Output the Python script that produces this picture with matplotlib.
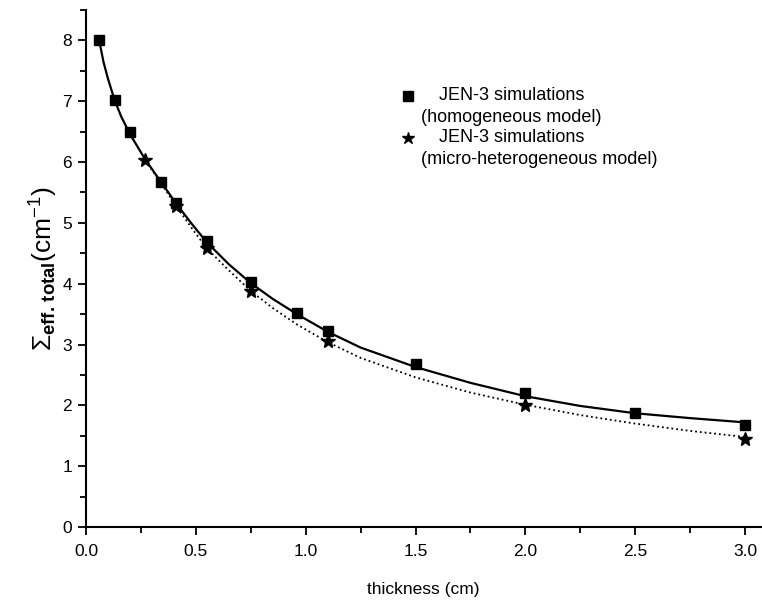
import matplotlib
matplotlib.use('Agg')
import matplotlib.pyplot as plt
from matplotlib.ticker import MultipleLocator, AutoMinorLocator

plt.rcParams['font.family'] = ['Liberation Sans', 'DejaVu Sans']
plt.rcParams['mathtext.fontset'] = 'custom'
plt.rcParams['mathtext.rm'] = 'Liberation Sans'
plt.rcParams['mathtext.bf'] = 'Liberation Sans:bold'
plt.rcParams['mathtext.it'] = 'Liberation Sans:italic'

# simulated points
hom_x = [0.06, 0.13, 0.20, 0.34, 0.41, 0.55, 0.75, 0.96, 1.10, 1.50, 2.00, 2.50, 3.00]
hom_y = [8.00, 7.02, 6.50, 5.68, 5.32, 4.70, 4.03, 3.52, 3.22, 2.68, 2.20, 1.88, 1.67]

het_x = [0.27, 0.41, 0.55, 0.75, 1.10, 2.00, 3.00]
het_y = [6.03, 5.28, 4.58, 3.88, 3.05, 2.00, 1.45]

# fitted curves
fit_hom_x = [0.06, 0.08, 0.10, 0.13, 0.16, 0.20, 0.27, 0.34, 0.41, 0.48, 0.55, 0.65, 0.75, 0.85,
             0.96, 1.10, 1.25, 1.50, 1.75, 2.00, 2.25, 2.50, 2.75, 3.00]
fit_hom_y = [8.00, 7.64, 7.37, 7.02, 6.75, 6.46, 6.04, 5.68, 5.32, 4.99, 4.68, 4.32, 4.01, 3.75,
             3.50, 3.21, 2.95, 2.63, 2.37, 2.15, 1.99, 1.87, 1.79, 1.72]

fit_het_x = [0.27, 0.34, 0.41, 0.48, 0.55, 0.65, 0.75, 0.85, 0.96, 1.10, 1.25, 1.50, 1.75,
             2.00, 2.25, 2.50, 2.75, 3.00]
fit_het_y = [6.03, 5.66, 5.28, 4.92, 4.58, 4.22, 3.88, 3.60, 3.33, 3.04, 2.78, 2.46, 2.21,
             2.01, 1.84, 1.70, 1.58, 1.48]

labels = ['JEN-3 simulations', '(homogeneous model)',
          'JEN-3 simulations', '(micro-heterogeneous model)']

fig = plt.figure(figsize=(7.62, 6.0), dpi=100)
ax = fig.add_axes([86 / 762, 73 / 600, 674.5 / 762, 517 / 600])

ax.plot(fit_hom_x, fit_hom_y, '-', color='black', linewidth=1.6)
ax.plot(fit_het_x, fit_het_y, ':', color='black', linewidth=1.3)
ax.plot(hom_x, hom_y, 's', color='black', markersize=6.5, linestyle='none')
ax.plot(het_x, het_y, '*', color='black', markersize=10, linestyle='none')

ax.set_xlim(0, 3.07)
ax.set_ylim(0, 8.5)
ax.xaxis.set_major_locator(MultipleLocator(0.5))
ax.xaxis.set_minor_locator(AutoMinorLocator(2))
ax.yaxis.set_major_locator(MultipleLocator(1))
ax.yaxis.set_minor_locator(AutoMinorLocator(2))
ax.xaxis.set_major_formatter(plt.FormatStrFormatter('%.1f'))

for s in ['top', 'right']:
    ax.spines[s].set_visible(False)
for s in ['left', 'bottom']:
    ax.spines[s].set_linewidth(1.5)

ax.tick_params(which='major', direction='out', length=6, width=1.3, labelsize=12.5, pad=4)
ax.tick_params(which='minor', direction='out', length=4, width=1.3)
ax.tick_params(axis='x', which='major', pad=6)

ax.set_xlabel('thickness (cm)', fontsize=12.5, labelpad=17)
ax.set_ylabel(r'$\Sigma_{\mathbf{eff.\,total}}(\mathrm{cm}^{-1})$', fontsize=19, labelpad=2)

# legend drawn by hand to match the indented layout
tr = ax.transAxes
def ax_x(px):
    return (px - 86) / 674.5
def ax_y(py):
    return (527 - py) / 517

ax.plot([ax_x(408)], [ax_y(96)], 's', color='black', markersize=6.5, transform=tr, clip_on=False)
ax.plot([ax_x(408)], [ax_y(138)], '*', color='black', markersize=9, transform=tr, clip_on=False)
ax.text(ax_x(439), ax_y(96), labels[0], transform=tr, fontsize=13, va='center')
ax.text(ax_x(421), ax_y(117), labels[1], transform=tr, fontsize=13, va='center')
ax.text(ax_x(439), ax_y(138), labels[2], transform=tr, fontsize=13, va='center')
ax.text(ax_x(421), ax_y(159), labels[3], transform=tr, fontsize=13, va='center')

fig.savefig('out.png', dpi=100)
